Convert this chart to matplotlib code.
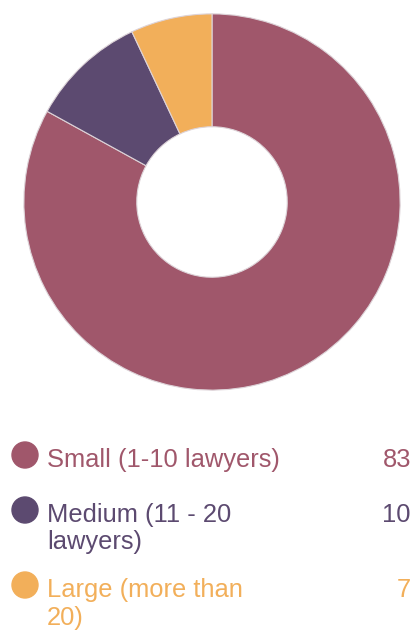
import matplotlib.pyplot as plt
from matplotlib.patches import Circle

plt.rcParams['font.family'] = ['Liberation Sans', 'DejaVu Sans']

labels = ['Small (1-10 lawyers)', 'Medium (11 - 20 lawyers)', 'Large (more than 20)']
label_lines = [['Small (1-10 lawyers)'],
               ['Medium (11 - 20', 'lawyers)'],
               ['Large (more than', '20)']]
values = [83, 10, 7]
colors = ['#A0576B', '#5C4A70', '#F2AF5A']

W, H = 414, 630
fig = plt.figure(figsize=(W / 100, H / 100), dpi=100)

# donut, centre (212, 202) px, radius 190 px
ax = fig.add_axes([22 / W, (H - 392) / H, 380 / W, 380 / H])
ax.pie(values, colors=colors, startangle=90, counterclock=False,
       wedgeprops=dict(width=0.6, edgecolor='#DDD3D8', linewidth=0.8))
ax.set_xlim(-1.01, 1.01)
ax.set_ylim(-1.01, 1.01)
ax.set_aspect('equal')

# legend drawn in pixel space
lg = fig.add_axes([0, 0, 1, 1])
lg.set_xlim(0, W)
lg.set_ylim(H, 0)
lg.axis('off')

row_y = [467, 522, 597]
dot_y = [455, 510, 585]
line_gap = 27.5
for i in range(len(values)):
    lg.add_patch(Circle((25, dot_y[i]), 13, color=colors[i]))
    for j, line in enumerate(label_lines[i]):
        lg.text(47, row_y[i] + j * line_gap, line, color=colors[i],
                fontsize=18.4, va='baseline', ha='left')
    lg.text(411, row_y[i], str(values[i]), color=colors[i],
            fontsize=18.4, va='baseline', ha='right')

fig.savefig('out.png', dpi=100)
